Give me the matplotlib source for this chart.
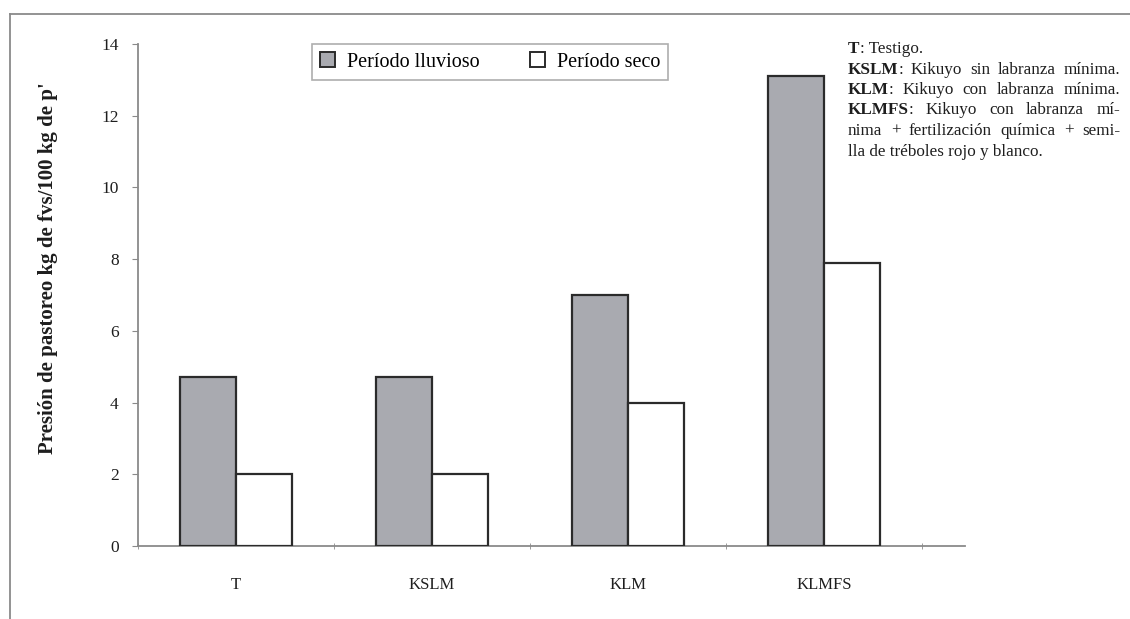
import matplotlib
matplotlib.use("Agg")

import numpy as np
import matplotlib.pyplot as plt
from matplotlib.lines import Line2D
from matplotlib.patches import Patch

categories = ["T", "KSLM", "KLM", "KLMFS"]
lluvioso = [4.7, 4.7, 7.0, 13.1]
seco = [2.0, 2.0, 4.0, 7.9]
series_names = ["Período lluvioso", "Período seco"]
y_ticks = [0, 2, 4, 6, 8, 10, 12, 14]

# (bold key, rest of line, justify?)
notes = [
    ("T", ": Testigo.", False),
    ("KSLM", ": Kikuyo sin labranza mínima.", True),
    ("KLM", ": Kikuyo con labranza mínima.", True),
    ("KLMFS", ": Kikuyo con labranza mí-", True),
    ("", "nima + fertilización química + semi-", True),
    ("", "lla de tréboles rojo y blanco.", False),
]

SERIF = ["Liberation Serif", "DejaVu Serif"]
plt.rcParams["font.family"] = SERIF

C = {
    "rain": "#a9aab0",
    "edge": "#2b2b2b",
    "axis": "#8a8a8a",
    "text": "#1e1e1e",
}

fig = plt.figure(figsize=(11.3, 6.19), dpi=100, facecolor="white")
ax = fig.add_axes([138 / 1130, 1 - 546 / 619, (965 - 138) / 1130, (546 - 44) / 619])

x = np.arange(len(categories))
w = 0.287
ax.bar(x - w / 2, lluvioso, w, color=C["rain"], edgecolor=C["edge"], linewidth=1.6, zorder=3)
ax.bar(x + w / 2, seco, w, color="white", edgecolor=C["edge"], linewidth=1.6, zorder=3)

ax.set_xlim(-0.5, 3.72)
ax.set_ylim(0, 14)
ax.set_yticks(y_ticks)
ax.set_yticklabels([str(t) for t in y_ticks], fontsize=12.5, color=C["text"])
ax.set_xticks(x)
ax.set_xticklabels(categories, fontsize=12, color=C["text"])
ax.tick_params(axis="x", length=0, pad=22)
ax.set_xticks(np.arange(-0.5, 4, 1.0), minor=True)
ax.tick_params(axis="x", which="minor", length=4, direction="inout", color=C["axis"])
ax.tick_params(axis="y", length=4, direction="out", color=C["axis"], pad=10)

for s in ["top", "right"]:
    ax.spines[s].set_visible(False)
for s in ["left", "bottom"]:
    ax.spines[s].set_color(C["axis"])
    ax.spines[s].set_linewidth(1.3)

fig.text(48 / 1130, 1 - 268 / 619, "Presión de pastoreo kg de fvs/100 kg de p'",
         rotation=90, ha="center", va="center", fontsize=15, fontweight="bold",
         color=C["text"])

handles = [
    Patch(facecolor=C["rain"], edgecolor=C["edge"], linewidth=1.4, label=series_names[0]),
    Patch(facecolor="white", edgecolor=C["edge"], linewidth=1.4, label=series_names[1]),
]
leg = fig.legend(handles=handles, loc="center", bbox_to_anchor=(490 / 1130, 1 - 62 / 619),
                 ncol=2, fontsize=14.5, frameon=True, fancybox=False, edgecolor="#9a9a9a",
                 handlelength=0.75, handleheight=0.75, handletextpad=0.6, columnspacing=2.5,
                 borderpad=0.4)
leg.get_frame().set_linewidth(1.2)

# frame of the scanned figure
fig.add_artist(Line2D([10 / 1130, 1], [1 - 14 / 619, 1 - 14 / 619], color="#8a8a8a", lw=1.3))
fig.add_artist(Line2D([10 / 1130, 10 / 1130], [0, 1 - 14 / 619], color="#8a8a8a", lw=1.3))

# --- notes, partly justified ---
renderer = fig.canvas.get_renderer()
x0, x1 = 848, 1120
y_px = 41
line_h = 20.5
fs = 12.3


def px(xp, yp):
    return xp / 1130, 1 - yp / 619


def width_of(t):
    return t.get_window_extent(renderer).width


for bold, rest, justify in notes:
    cur = x0
    if bold:
        tb = fig.text(*px(cur, y_px), bold, fontsize=fs, fontweight="bold",
                      color=C["text"], va="top", ha="left")
        cur += width_of(tb)
    if not justify:
        fig.text(*px(cur, y_px), rest, fontsize=fs, color=C["text"], va="top", ha="left")
    else:
        words = rest.split(" ")
        objs = [fig.text(*px(0, y_px), wd, fontsize=fs, color=C["text"], va="top", ha="left")
                for wd in words]
        total = sum(width_of(o) for o in objs)
        gap = (x1 - cur - total) / (len(objs) - 1)
        for o in objs:
            o.set_position(px(cur, y_px))
            cur += width_of(o) + gap
    y_px += line_h

fig.savefig("out.png", dpi=100, facecolor="white")
